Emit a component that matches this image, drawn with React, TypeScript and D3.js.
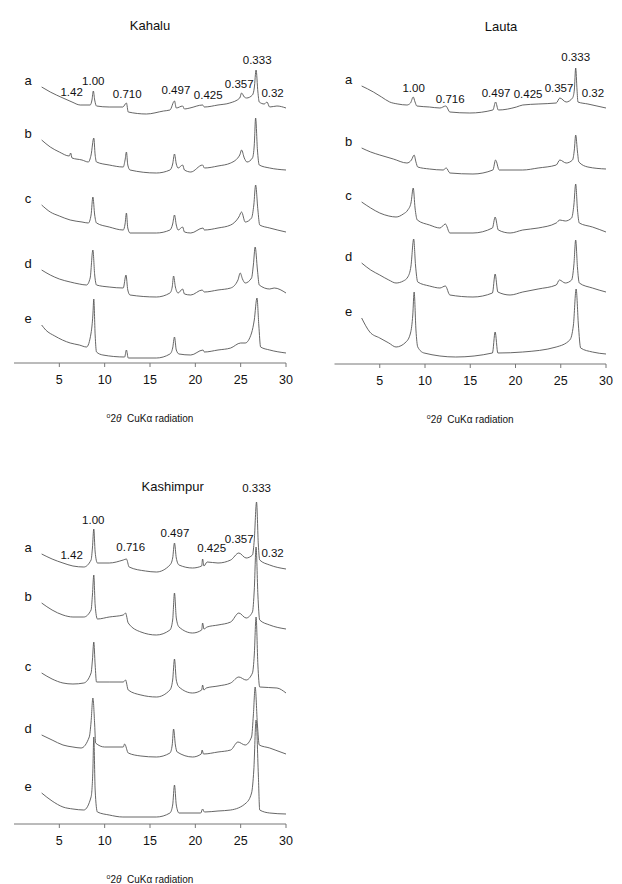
import React from "react";
import * as d3 from "d3";

type Pt = [number, number];

// 2theta (deg) vs intensity (arbitrary units)
const kahaluA: Pt[] = [[3.05,36],[4.0,31],[5.4,25],[6.4,21],[7.3,18],[8.4,18],[8.6,23],[8.75,32],[8.9,23],[9.1,17],[10.5,16],[12.0,16],[12.4,20],[12.6,11],[14.6,9],[16.5,12],[17.2,13],[17.7,22],[17.9,15],[18.6,17],[18.8,14],[19.4,15],[20.8,18],[21.0,16],[22.5,18],[23.8,20],[24.9,25],[25.1,30],[25.4,26],[25.65,25],[26.3,28],[26.5,35],[26.7,53],[26.9,31],[27.05,21],[27.6,19],[27.9,21],[28.2,16],[29.0,17],[30,15]];
const kahaluB: Pt[] = [[3.05,43],[4.0,36],[5.0,31],[6.1,27],[6.25,30],[6.4,25],[7.5,23],[8.2,21],[8.5,28],[8.8,45],[8.95,28],[9.1,21],[10.5,18],[12.05,16],[12.25,23],[12.4,31],[12.55,18],[12.8,13],[15.7,10],[17.2,13],[17.5,19],[17.7,29],[17.9,19],[18.1,15],[18.6,18],[18.8,13],[19.5,11],[20.8,18],[21.0,15],[22.5,17],[23.9,20],[24.9,28],[25.1,33],[25.4,25],[25.7,21],[26.3,25],[26.5,38],[26.65,65],[26.85,33],[27.05,18],[28.2,15],[30,13]];
const kahaluC: Pt[] = [[3.05,38],[4.0,31],[5.0,27],[6.2,23],[7.5,21],[8.2,20],[8.5,28],[8.7,46],[8.9,28],[9.1,20],[10.5,16],[12.05,13],[12.25,19],[12.4,30],[12.55,15],[12.8,10],[15.7,10],[17.2,13],[17.5,19],[17.7,28],[17.9,18],[18.1,13],[18.6,16],[18.8,11],[19.5,10],[20.85,15],[21.0,13],[22.5,15],[23.9,18],[24.8,26],[25.1,31],[25.5,21],[26.2,25],[26.45,38],[26.65,58],[26.9,33],[27.1,18],[28.2,15],[30,11]];
const kahaluD: Pt[] = [[3.05,33],[4.0,28],[5.0,24],[6.2,21],[7.2,19],[8.0,18],[8.4,25],[8.7,53],[8.9,28],[9.1,18],[10.5,16],[12.05,15],[12.35,28],[12.55,13],[12.8,8],[15.7,6],[17.2,10],[17.45,16],[17.6,27],[17.8,16],[18.1,10],[18.6,14],[18.8,9],[19.5,8],[20.75,13],[21.0,11],[22.5,13],[23.9,15],[24.7,23],[24.95,30],[25.2,24],[25.5,20],[26.2,25],[26.4,38],[26.6,56],[26.85,33],[27.05,18],[28.2,14],[28.7,15],[30,10]];
const kahaluE: Pt[] = [[3.05,38],[3.5,33],[4.5,27],[6.2,20],[7.2,18],[8.0,16],[8.5,30],[8.7,48],[8.8,64],[8.95,28],[9.1,11],[9.8,8],[12.2,6],[12.4,13],[12.6,5],[15.7,5],[17.2,9],[17.5,15],[17.7,26],[17.9,13],[18.2,9],[19.5,8],[20.85,13],[21.0,11],[22.5,13],[23.9,15],[25.0,20],[25.5,20],[26.2,30],[26.5,43],[26.8,65],[27.0,38],[27.2,16],[28.2,13],[30,10]];

const lautaA: Pt[] = [[3.0,38],[4.3,32],[5.2,27],[6.1,22],[7.0,20],[8.0,19],[8.4,21],[8.7,27],[8.9,22],[9.1,18],[10.5,17],[11.65,16],[12.3,18],[12.75,12],[14.95,11],[17.5,14],[17.8,22],[18.1,14],[20.1,17],[20.8,19],[22.5,20],[24.5,21],[24.9,26],[25.6,22],[26.3,26],[26.5,34],[26.65,56],[26.8,34],[26.9,22],[28.0,20],[29.0,18],[30,16]];
const lautaB: Pt[] = [[3.0,36],[4.0,32],[5.0,29],[6.5,25],[8.0,21],[8.5,24],[8.8,29],[9.0,22],[9.2,17],[10.5,15],[12.0,14],[12.35,16],[12.75,11],[15.3,10],[17.5,14],[17.8,24],[18.2,14],[20.8,14],[22.5,16],[24.5,19],[24.9,24],[25.6,21],[26.3,24],[26.5,34],[26.65,49],[26.85,32],[27.0,22],[28.0,17],[30,15]];
const lautaC: Pt[] = [[3.0,42],[4.0,36],[5.0,31],[6.0,28],[6.8,27],[7.6,30],[8.1,34],[8.45,41],[8.7,56],[8.9,36],[9.15,24],[10.5,19],[11.65,16],[12.25,20],[12.75,11],[15.3,11],[17.45,16],[17.75,27],[18.1,14],[19.4,11],[20.8,14],[22.5,16],[24.5,21],[24.9,24],[25.5,23],[26.2,26],[26.45,39],[26.65,60],[26.85,34],[27.05,21],[28.5,17],[30,12]];
const lautaD: Pt[] = [[3.0,41],[4.0,34],[5.0,29],[6.0,24],[6.8,21],[7.6,23],[8.1,27],[8.45,38],[8.75,65],[8.95,39],[9.2,22],[10.5,18],[11.65,16],[12.25,18],[12.75,9],[15.3,7],[17.45,11],[17.75,30],[18.05,12],[19.4,9],[20.8,12],[22.5,15],[24.5,19],[24.85,24],[25.5,21],[26.2,24],[26.45,39],[26.65,64],[26.85,36],[27.05,21],[28.5,16],[30,12]];
const lautaE: Pt[] = [[3.0,46],[3.9,32],[5.0,26],[6.0,21],[6.8,17],[7.9,22],[8.4,31],[8.65,49],[8.8,72],[9.0,34],[9.2,17],[9.9,11],[13.4,7],[17.45,11],[17.75,32],[18.05,11],[20.8,12],[24.5,17],[26.0,24],[26.4,39],[26.7,75],[26.95,39],[27.2,16],[28.5,12],[30,10]];

const kashimpurA: Pt[] = [[3.05,30],[4.2,25],[5.4,21],[6.5,18],[7.7,17],[8.5,24],[8.65,36],[8.8,55],[8.95,32],[9.2,21],[10.5,21],[12.05,24],[12.4,25],[12.7,17],[14.5,13],[15.7,12],[17.2,19],[17.5,26],[17.7,41],[17.9,26],[18.2,19],[19.7,16],[20.7,18],[20.8,25],[20.95,18],[21.3,22],[22.5,21],[23.9,24],[24.8,31],[25.6,26],[26.3,29],[26.5,44],[26.75,82],[26.95,39],[27.1,24],[28.2,19],[30,15]];
const kashimpurB: Pt[] = [[3.05,41],[4.2,34],[5.4,29],[6.5,27],[7.7,27],[8.5,34],[8.65,49],[8.8,69],[8.95,39],[9.2,25],[10.5,27],[12.05,29],[12.3,31],[12.6,21],[14.0,12],[15.7,9],[17.2,14],[17.5,24],[17.7,51],[17.9,26],[18.2,17],[19.7,11],[20.7,14],[20.8,21],[20.95,15],[21.3,17],[22.5,19],[23.9,22],[24.8,31],[25.6,26],[26.3,32],[26.5,54],[26.7,97],[26.9,49],[27.1,24],[28.2,19],[30,15]];
const kashimpurC: Pt[] = [[3.05,31],[4.2,25],[5.4,21],[6.5,20],[7.7,21],[8.5,31],[8.65,44],[8.8,62],[8.95,39],[9.1,22],[10.5,22],[12.05,22],[12.3,24],[12.6,14],[14.0,9],[15.7,7],[17.2,14],[17.5,24],[17.7,45],[17.9,24],[18.2,17],[19.7,11],[20.7,14],[20.8,19],[20.95,14],[21.2,16],[22.5,18],[23.9,21],[24.8,27],[25.6,24],[26.3,31],[26.5,49],[26.7,87],[26.9,39],[27.1,17],[29.0,16],[30,11]];
const kashimpurD: Pt[] = [[3.05,29],[4.2,24],[5.4,19],[6.5,17],[7.4,16],[8.3,27],[8.5,42],[8.7,66],[8.9,39],[9.0,21],[10.0,17],[12.05,17],[12.2,20],[12.6,11],[14.0,8],[15.7,7],[17.2,11],[17.45,19],[17.6,35],[17.8,19],[18.0,12],[19.7,7],[20.65,10],[20.75,14],[20.9,10],[22.5,12],[23.9,14],[24.7,22],[25.5,19],[26.2,27],[26.4,49],[26.6,77],[26.85,39],[27.05,19],[28.2,16],[28.8,14],[30,10]];
const kashimpurE: Pt[] = [[3.05,31],[4.2,23],[5.4,17],[6.5,15],[7.7,14],[8.5,27],[8.7,54],[8.8,87],[8.95,34],[9.2,12],[10.5,9],[12.0,7],[15.7,7],[17.2,11],[17.5,19],[17.7,39],[17.9,19],[18.2,11],[20.6,11],[20.8,15],[21.0,12],[22.5,13],[23.9,14],[25.6,21],[26.2,31],[26.45,54],[26.7,104],[26.95,49],[27.1,14],[28.2,11],[30,10]];

const sampleLetters = ["a", "b", "c", "d", "e"];
const xTicks = [5, 10, 15, 20, 25, 30];

// d-spacing labels (nm): text, 2theta, intensity level
const kahaluPeaks: [string, number, number][] = [["1.42",6.36,270],["1.00",8.74,281],["0.710",12.49,268],["0.497",17.86,272],["0.425",21.42,267],["0.357",24.84,278],["0.333",26.82,302],["0.32",28.52,269]];
const lautaPeaks: [string, number, number][] = [["1.00",8.74,275],["0.716",12.79,264],["0.497",17.85,270],["0.425",21.39,269],["0.357",24.81,275],["0.333",26.65,306],["0.32",28.56,270]];
const kashimpurPeaks: [string, number, number][] = [["1.42",6.36,268],["1.00",8.74,303],["0.716",12.87,276],["0.497",17.75,290],["0.425",21.8,275],["0.357",24.84,284],["0.333",26.76,335],["0.32",28.52,270]];

const offsets = [240, 180, 120, 60, 0];

const panels = [
  { title: "Kahalu", titleAt: 15, traces: [kahaluA, kahaluB, kahaluC, kahaluD, kahaluE], peaks: kahaluPeaks, left: 14, right: 286, axisY: 363 },
  { title: "Lauta", titleAt: 18.4, traces: [lautaA, lautaB, lautaC, lautaD, lautaE], peaks: lautaPeaks, left: 334.5, right: 606, axisY: 364 },
  { title: "Kashimpur", titleAt: 17.5, traces: [kashimpurA, kashimpurB, kashimpurC, kashimpurD, kashimpurE], peaks: kashimpurPeaks, left: 14, right: 286, axisY: 824 },
];

const font = "Arial, 'Liberation Sans', sans-serif";

function Panel({ p }: { p: (typeof panels)[number] }) {
  const x = d3.scaleLinear().domain([0, 30]).range([p.left, p.right]);
  const y = d3.scaleLinear().domain([0, 340]).range([p.axisY, p.axisY - 340]);

  return (
    <g fontFamily={font}>
      <text x={x(p.titleAt)} y={y(336)} fontSize={13} textAnchor="middle" dominantBaseline="middle" fill="#111">
        {p.title}
      </text>
      {p.traces.map((tr, i) => {
        const line = d3
          .line<Pt>()
          .x((d) => x(d[0]))
          .y((d) => y(d[1] + offsets[i]))
          .curve(d3.curveMonotoneX);
        return (
          <g key={i}>
            <path d={line(tr) || ""} fill="none" stroke="#555" strokeWidth={0.9} />
            <text x={x(1.55)} y={y(tr[0][1] + offsets[i] + 5)} fontSize={13} textAnchor="middle" dominantBaseline="middle" fill="#111">
              {sampleLetters[i]}
            </text>
          </g>
        );
      })}
      {p.peaks.map(([t, pos, lvl]) => (
        <text key={t} x={x(pos)} y={y(lvl)} fontSize={11.5} textAnchor="middle" dominantBaseline="middle" fill="#111">
          {t}
        </text>
      ))}
      <line x1={x(0)} x2={x(30)} y1={p.axisY} y2={p.axisY} stroke="#777" strokeWidth={1} />
      {xTicks.map((t) => (
        <g key={t}>
          <line x1={x(t)} x2={x(t)} y1={p.axisY} y2={p.axisY + 4} stroke="#777" strokeWidth={1} />
          <text x={x(t)} y={p.axisY + 18} fontSize={12.5} textAnchor="middle" dominantBaseline="middle" fill="#111">
            {t}
          </text>
        </g>
      ))}
      <text x={x(15)} y={p.axisY + 56} fontSize={10} textAnchor="middle" dominantBaseline="middle" fill="#111">
        <tspan fontSize={7} dy={-3}>o</tspan>
        <tspan dy={3}>2</tspan>
        <tspan fontStyle="italic">θ</tspan>
        <tspan>{"\u00a0 CuKα radiation"}</tspan>
      </text>
    </g>
  );
}

export default function App() {
  return (
    <svg width={622} height={884} style={{ position: "absolute", left: 0, top: 0, background: "#fff" }}>
      <rect width={622} height={884} fill="#fff" />
      {panels.map((p) => (
        <Panel key={p.title} p={p} />
      ))}
    </svg>
  );
}
